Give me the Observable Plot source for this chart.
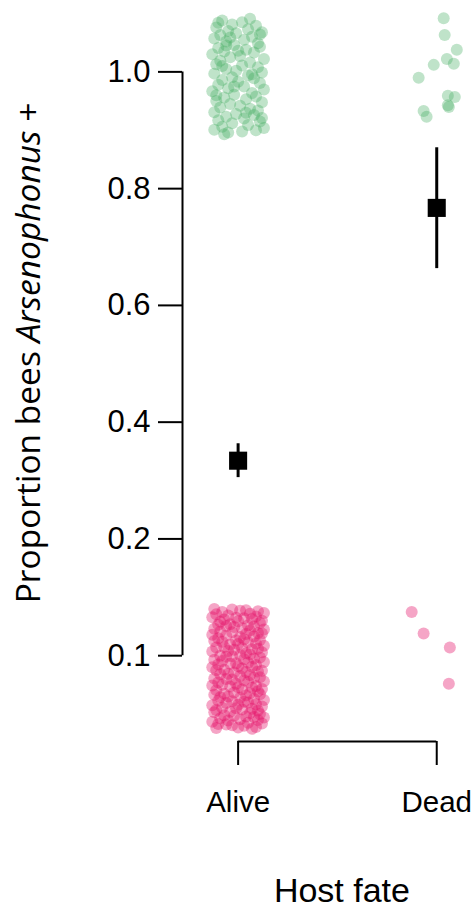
<!DOCTYPE html>
<html><head><meta charset="utf-8">
<script src="https://cdn.jsdelivr.net/npm/d3@7"></script>
<script src="https://cdn.jsdelivr.net/npm/@observablehq/plot@0.6"></script>
<style>body{margin:0;background:#fff}</style>
</head><body><div id="chart"></div>
<script>
// ---- data ----
const categories = ["Alive", "Dead"];
const catPos = [1, 2];
const yTicks = [0, 0.2, 0.4, 0.6, 0.8, 1.0];
const yTickLabels = ["0.1", "0.2", "0.4", "0.6", "0.8", "1.0"];
const meanProp = [0.334, 0.767];
const ciLow = [0.305, 0.663];
const ciHigh = [0.363, 0.870];

// jittered raw observations (x jitter around category, y = 1 positive / 0 negative with jitter)
const aliveNegX = [
-0.12, 0.04, -0.03, 0.10, -0.08, 0.01, 0.13, -0.11, 0.06, -0.05,
0.09, -0.01, -0.13, 0.07, -0.07, 0.03, 0.12, -0.09, 0.00, 0.11,
-0.04, 0.05, -0.10, 0.08, -0.02, -0.06, 0.02, 0.13, -0.12, 0.06,
-0.09, 0.10, -0.03, 0.04, -0.13, 0.12, -0.06, 0.01, 0.08, -0.10,
0.03, -0.01, 0.11, -0.08, 0.05, -0.12, 0.09, -0.04, 0.00, 0.13,
-0.07, 0.02, -0.11, 0.07, -0.02, 0.10, -0.05, 0.12, -0.13, 0.04,
0.06, -0.09, 0.01, -0.06, 0.11, -0.03, 0.08, -0.12, 0.03, -0.08,
0.13, -0.01, 0.05, -0.10, 0.09, -0.04, 0.00, -0.13, 0.07, 0.02,
-0.07, 0.12, -0.11, 0.04, -0.02, 0.10, -0.05, 0.06, -0.09, 0.01,
0.11, -0.12, 0.08, -0.03, 0.03, -0.06, 0.13, -0.10, 0.05, -0.01,
-0.08, 0.09, -0.13, 0.00, 0.07, -0.04, 0.12, -0.11, 0.02, 0.10,
-0.02, -0.07, 0.06, -0.12, 0.04, 0.11, -0.05, 0.01, -0.09, 0.08,
0.13, -0.03, -0.10, 0.05, -0.06, 0.03, 0.09, -0.13, 0.00, 0.12,
-0.08, 0.07, -0.01, -0.11, 0.10, 0.02, -0.04, 0.06, -0.12, 0.11,
-0.07, 0.04, -0.02, 0.13, -0.09, 0.08, 0.01, -0.05, 0.10, -0.13,
0.05, -0.10, 0.12, -0.03, 0.03, -0.06, 0.09, -0.11, 0.00, 0.07
];
const aliveNegY = [
0.080, 0.078, 0.079, 0.076, 0.075, 0.077, 0.073, 0.071, 0.072, 0.069,
0.067, 0.065, 0.066, 0.063, 0.062, 0.064, 0.060, 0.058, 0.059, 0.056,
0.054, 0.052, 0.053, 0.050, 0.049, 0.051, 0.047, 0.045, 0.046, 0.043,
0.041, 0.039, 0.040, 0.037, 0.036, 0.038, 0.034, 0.032, 0.033, 0.030,
0.028, 0.026, 0.027, 0.024, 0.023, 0.025, 0.021, 0.019, 0.020, 0.017,
0.015, 0.013, 0.014, 0.011, 0.010, 0.012, 0.008, 0.006, 0.007, 0.004,
0.002, 0.000, 0.001, -0.002, -0.003, -0.001, -0.005, -0.007, -0.006, -0.009,
-0.011, -0.013, -0.012, -0.015, -0.016, -0.014, -0.018, -0.020, -0.019, -0.022,
-0.024, -0.026, -0.025, -0.028, -0.029, -0.027, -0.031, -0.033, -0.032, -0.035,
-0.037, -0.039, -0.038, -0.041, -0.042, -0.040, -0.044, -0.046, -0.045, -0.048,
-0.050, -0.052, -0.051, -0.054, -0.055, -0.053, -0.057, -0.059, -0.058, -0.061,
-0.063, -0.065, -0.064, -0.067, -0.068, -0.066, -0.070, -0.072, -0.071, -0.074,
-0.076, -0.078, -0.077, -0.080, -0.081, -0.079, -0.083, -0.085, -0.084, -0.087,
-0.089, -0.091, -0.090, -0.093, -0.094, -0.092, -0.096, -0.098, -0.097, -0.100,
-0.102, -0.104, -0.103, -0.106, -0.107, -0.105, -0.109, -0.111, -0.110, -0.113,
-0.115, -0.117, -0.116, -0.119, -0.120, -0.118, -0.122, -0.124, -0.123, -0.125
];
const alivePosX = [
-0.08, 0.02, -0.03, 0.09, -0.11, 0.05, -0.05, 0.12, -0.01, -0.09,
0.07, -0.12, 0.03, -0.06, 0.10, -0.02, 0.11, -0.10, 0.04, -0.07,
0.08, -0.13, 0.01, -0.04, 0.13, -0.09, 0.06, -0.11, 0.02, 0.10,
-0.06, -0.01, 0.12, -0.12, 0.05, -0.03, 0.08, -0.08, 0.00, 0.11,
-0.10, 0.03, -0.05, 0.13, -0.13, 0.07, -0.02, 0.09, -0.07, 0.04,
-0.11, 0.12, -0.04, 0.01, -0.09, 0.06, 0.10, -0.12, -0.01, 0.08,
-0.06, 0.03, -0.10, 0.11, -0.03, 0.05, -0.08, 0.13, -0.12, 0.02,
-0.05, 0.09, -0.10, 0.06, -0.04, 0.00, -0.08, 0.07, -0.11, 0.04,
-0.07, 0.11, -0.02, 0.12, -0.06
];
const alivePosY = [
1.088, 1.085, 1.081, 1.079, 1.076, 1.073, 1.070, 1.068, 1.066, 1.063,
1.060, 1.057, 1.055, 1.052, 1.049, 1.046, 1.043, 1.041, 1.038, 1.035,
1.033, 1.030, 1.027, 1.025, 1.022, 1.019, 1.016, 1.013, 1.011, 1.008,
1.005, 1.002, 0.999, 0.997, 0.994, 0.991, 0.989, 0.986, 0.983, 0.981,
0.978, 0.975, 0.972, 0.970, 0.967, 0.964, 0.961, 0.958, 0.956, 0.953,
0.950, 0.948, 0.945, 0.942, 0.939, 0.937, 0.934, 0.931, 0.928, 0.926,
0.923, 0.920, 0.917, 0.915, 0.912, 0.909, 0.906, 0.904, 0.901, 0.898,
0.896, 0.900, 1.084, 1.091, 1.059, 1.036, 1.010, 0.996, 0.960, 0.930,
0.893, 1.064, 0.975, 0.921, 1.045
];
const deadPosX = [0.035, 0.040, 0.101, 0.051, 0.086, -0.015, -0.091, 0.056, 0.091, 0.061, 0.056, -0.066, -0.051];
const deadPosY = [1.092, 1.063, 1.038, 1.022, 1.014, 1.012, 0.990, 0.959, 0.957, 0.940, 0.943, 0.933, 0.923];
const deadNegX = [-0.126, -0.066, 0.066, 0.061];
const deadNegY = [0.075, 0.038, 0.014, -0.048];

// ---- build tables ----
const posPts = [], negPts = [];
function add(target, c, xs, ys) { xs.forEach((dx, i) => target.push({x: catPos[c] + dx, y: ys[i]})); }
add(negPts, 0, aliveNegX, aliveNegY);
add(posPts, 0, alivePosX, alivePosY);
add(posPts, 1, deadPosX, deadPosY);
add(negPts, 1, deadNegX, deadNegY);
const summary = categories.map((c, i) => ({x: catPos[i], mean: meanProp[i], lo: ciLow[i], hi: ciHigh[i]}));

const xDomain = [0.72, 2.17];
const yDomain = [-0.147, 1.1];
const tickLabel = new Map(yTicks.map((t, i) => [t, yTickLabels[i]]));
const catLabel = new Map(catPos.map((p, i) => [p, categories[i]]));

const chart = Plot.plot({
  width: 472, height: 909,
  marginLeft: 182, marginRight: 2, marginTop: 13, marginBottom: 168,
  style: {fontFamily: "'Liberation Sans', Arial, sans-serif", fontSize: "31px", background: "white", overflow: "visible"},
  x: {domain: xDomain},
  y: {domain: yDomain},
  marks: [
    Plot.axisY({ticks: yTicks, tickFormat: d => tickLabel.get(d), tickSize: 24, tickPadding: 8, strokeWidth: 2, label: null}),
    Plot.axisX({ticks: catPos, tickFormat: d => catLabel.get(d), tickSize: 24, tickPadding: 26, strokeWidth: 2, label: null, fontSize: 29.5}),
    Plot.ruleX([xDomain[0]], {y1: yTicks[0], y2: yTicks[yTicks.length - 1], strokeWidth: 2}),
    Plot.ruleY([yDomain[0]], {x1: catPos[0], x2: catPos[1], strokeWidth: 2}),
    Plot.dot(posPts, {x: "x", y: "y", r: 6, fill: "#3DAA5C", fillOpacity: 0.33}),
    Plot.dot(negPts, {x: "x", y: "y", r: 6, fill: "#E6136A", fillOpacity: 0.38}),
    Plot.ruleX(summary, {x: "x", y1: "lo", y2: "hi", strokeWidth: 3, stroke: "black"}),
    Plot.dot(summary, {x: "x", y: "mean", symbol: "square", r: 10.2, fill: "black"})
  ]
});

const svg = d3.select(chart);
const sx = chart.scale("x");
const ylab = svg.append("text")
  .attr("transform", "translate(40,353) rotate(-90)")
  .attr("text-anchor", "middle")
  .attr("fill", "black")
  .style("font-family", "'Open Sans', sans-serif")
  .style("font-size", "33.5px");
ylab.append("tspan").text("Proportion bees ");
ylab.append("tspan").attr("font-style", "italic").text("Arsenophonus");
ylab.append("tspan").text(" +");

svg.append("text")
  .attr("x", (sx.apply(catPos[0]) + sx.apply(catPos[1])) / 2 + 5)
  .attr("y", 902)
  .attr("text-anchor", "middle")
  .attr("fill", "black")
  .style("font-size", "34px")
  .text("Host fate");

document.getElementById("chart").appendChild(chart);
</script>
</body></html>
